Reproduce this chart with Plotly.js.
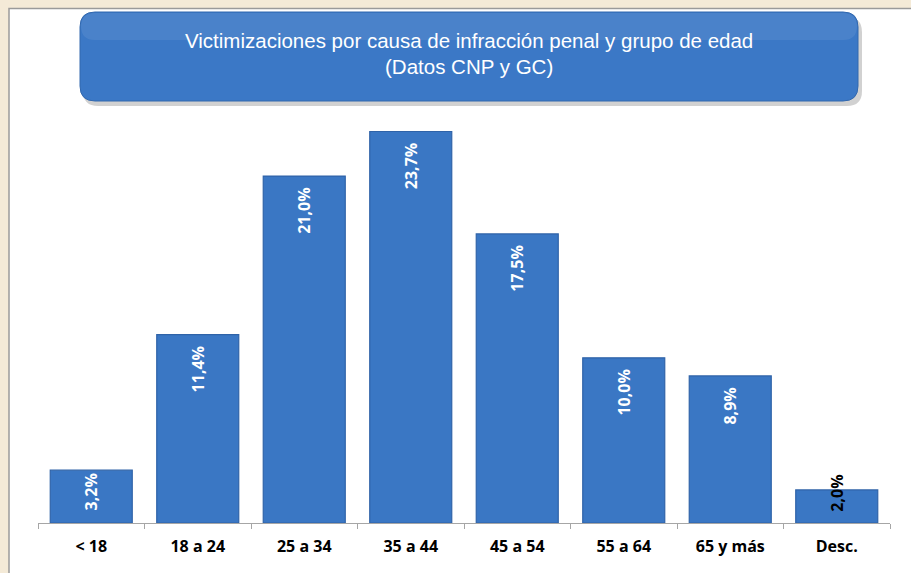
<!DOCTYPE html>
<html>
<head>
<meta charset="utf-8">
<script src="https://cdn.plot.ly/plotly-3.0.1.min.js"></script>
<style>html,body{margin:0;padding:0;background:#F4EAD7;}#chart{width:911px;height:573px;}</style>
</head>
<body>
<div id="chart"></div>
<script>
const categories = ["< 18", "18 a 24", "25 a 34", "35 a 44", "45 a 54", "55 a 64", "65 y más", "Desc."];
const values = [3.2, 11.4, 21.0, 23.7, 17.5, 10.0, 8.9, 2.0];
const labels = ["3,2%", "11,4%", "21,0%", "23,7%", "17,5%", "10,0%", "8,9%", "2,0%"];
const titleLines = ["Victimizaciones por causa de infracción penal y grupo de edad", "(Datos CNP y GC)"];

const W = 911, H = 573;
const L = 38, R = 21, T = 110, B = 50;
const pw = W - L - R, ph = H - T - B;
const px = x => (x - L) / pw;
const py = y => (H - B - y) / ph;

function roundRect(x0, y0, x1, y1, r) {
  const rx = r / pw, ry = r / ph;
  const a = px(x0), b = px(x1), top = py(y0), bot = py(y1);
  return `M ${a + rx} ${top} L ${b - rx} ${top} Q ${b} ${top} ${b} ${top - ry} ` +
         `L ${b} ${bot + ry} Q ${b} ${bot} ${b - rx} ${bot} L ${a + rx} ${bot} ` +
         `Q ${a} ${bot} ${a} ${bot + ry} L ${a} ${top - ry} Q ${a} ${top} ${a + rx} ${top} Z`;
}

const n = categories.length;
const textpos = values.map((v, i) => i === n - 1 ? "none" : "inside");
const padded = labels.map((s, i) => i === 0 ? s : s + "\u00a0\u00a0");

const trace = {
  type: "bar",
  x: categories,
  y: values,
  text: padded,
  textposition: textpos,
  insidetextanchor: "end",
  textangle: -90,
  constraintext: "none",
  textfont: {family: "Open Sans, DejaVu Sans, sans-serif", size: 16, color: "#FFFFFF", weight: "bold"},
  marker: {color: "#3A77C4", line: {color: "#2F63A8", width: 1.2}},
  hoverinfo: "none",
  cliponaxis: false
};

const shapes = [
  {type: "rect", xref: "paper", yref: "paper", x0: px(9), x1: px(915), y0: py(8.5), y1: py(580),
   fillcolor: "#FFFFFF", line: {color: "#9A9A9A", width: 1.5}, layer: "below"},
  {type: "path", xref: "paper", yref: "paper", path: roundRect(83, 17, 862, 106, 15),
   fillcolor: "rgba(0,0,0,0.18)", line: {width: 0}, layer: "below"},
  {type: "path", xref: "paper", yref: "paper", path: roundRect(80, 12, 858, 101, 15),
   fillcolor: "#3B78C6", line: {color: "#3268AE", width: 1}, layer: "below"},
  {type: "path", xref: "paper", yref: "paper", path: roundRect(81, 13, 857, 40, 14),
   fillcolor: "rgba(255,255,255,0.08)", line: {width: 0}, layer: "below"}
];

const titleFont = {family: "Liberation Sans, Arial, sans-serif", size: 20.5, color: "#FFFFFF"};
const annotations = [
  {xref: "paper", yref: "paper", x: px(469), y: py(40), xanchor: "center", yanchor: "middle",
   text: titleLines[0], showarrow: false, font: titleFont},
  {xref: "paper", yref: "paper", x: px(469), y: py(66), xanchor: "center", yanchor: "middle",
   text: titleLines[1], showarrow: false, font: titleFont},
  {x: categories[n - 1], y: values[n - 1], text: labels[n - 1], textangle: -90, showarrow: false,
   yanchor: "middle", yshift: -3,
   font: {family: "Open Sans, DejaVu Sans, sans-serif", size: 16, color: "#000000", weight: "bold"}}
];

const layout = {
  width: W, height: H,
  margin: {l: L, r: R, t: T, b: B, pad: 0},
  paper_bgcolor: "#F4EAD7",
  plot_bgcolor: "rgba(0,0,0,0)",
  bargap: 0.23,
  showlegend: false,
  xaxis: {
    type: "category",
    showgrid: false, zeroline: false,
    showline: true, linecolor: "#A6A6A6", linewidth: 1,
    ticks: "outside", tickcolor: "#A6A6A6", ticklen: 5,
    tickson: "boundaries",
    ticklabelstandoff: 9,
    tickfont: {family: "Open Sans, DejaVu Sans, sans-serif", size: 16, color: "#000000", weight: "bold"},
    range: [-0.5, n - 0.5]
  },
  yaxis: {range: [0, 25], visible: false, fixedrange: true},
  shapes: shapes,
  annotations: annotations
};

Plotly.newPlot("chart", [trace], layout, {displayModeBar: false, staticPlot: true});
</script>
</body>
</html>
